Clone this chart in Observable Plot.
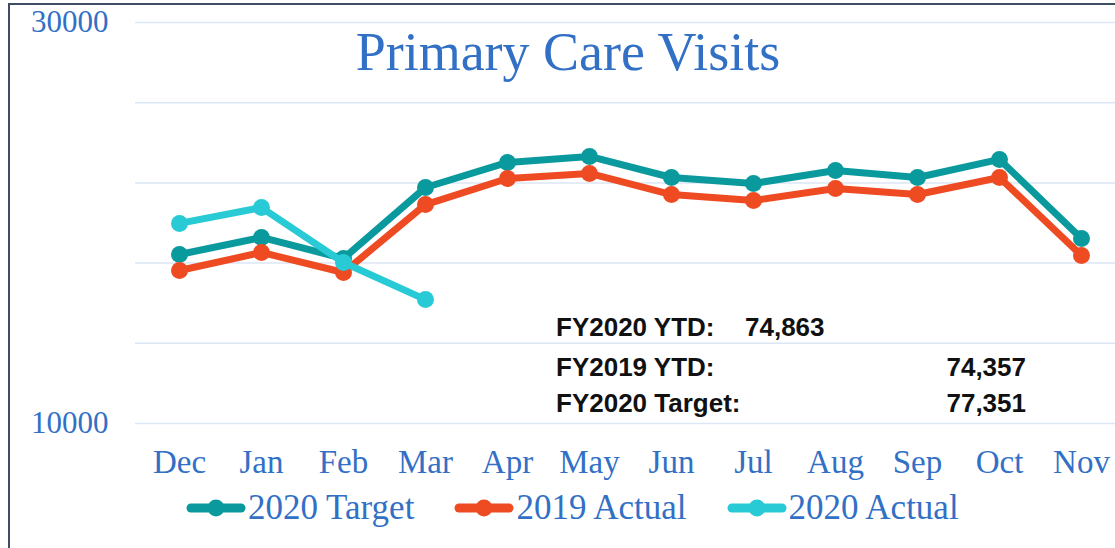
<!DOCTYPE html>
<html>
<head>
<meta charset="utf-8">
<script src="https://cdn.jsdelivr.net/npm/d3@7"></script>
<script src="https://cdn.jsdelivr.net/npm/@observablehq/plot@0.6"></script>
<style>
  html, body { margin: 0; padding: 0; background: #fff; }
  #wrap { position: relative; width: 1115px; height: 548px; overflow: hidden; background: #fff; }
  #frame { position: absolute; left: 8px; top: 3px; width: 1200px; height: 700px; border: 2px solid #3e4c64; box-sizing: border-box; }
  #chart { position: absolute; left: 0; top: 0; }
  #title { position: absolute; left: 0; width: 1136px; top: 25px; text-align: center; font-family: "Liberation Serif", serif; font-size: 54px; color: #3270c6; line-height: 1; }
  .summary { position: absolute; font-family: "Liberation Sans", sans-serif; font-weight: bold; font-size: 26px; color: #111; line-height: 1; white-space: nowrap; }
  #legend { position: absolute; left: 186px; top: 488px; display: flex; align-items: center; font-family: "Liberation Serif", serif; font-size: 35px; color: #3270c6; }
  .item { display: flex; align-items: center; margin-right: 40px; }
  .item svg { margin-right: 2px; }
</style>
</head>
<body>
<div id="wrap">
  <div id="frame"></div>
  <div id="chart"></div>
  <div id="title"></div>
  <div id="summary"></div>
  <div id="legend"></div>
</div>
<script>
const chartTitle = "Primary Care Visits";
const months = ["Dec","Jan","Feb","Mar","Apr","May","Jun","Jul","Aug","Sep","Oct","Nov"];
const target2020 = [18430, 19280, 18230, 21770, 23020, 23320, 22270, 21970, 22620, 22270, 23170, 19230];
const actual2019 = [17630, 18530, 17530, 20920, 22220, 22470, 21420, 21120, 21720, 21420, 22270, 18380];
const actual2020 = [19980, 20770, 18030, 16180];
const seriesNames = ["2020 Target", "2019 Actual", "2020 Actual"];
const seriesColors = ["#0a9a9e", "#ef4b23", "#28cbd5"];
const yTicks = [10000, 30000];
const yGrid = [10000, 14000, 18000, 22000, 26000, 30000];
const summaryLabels = ["FY2020 YTD:", "FY2019 YTD:", "FY2020 Target:"];
const summaryValues = ["74,863", "74,357", "77,351"];

const seriesValues = [target2020, actual2019, actual2020];
const data = [];
seriesNames.forEach((s, si) => {
  seriesValues[si].forEach((v, i) => data.push({series: s, month: months[i], value: v}));
});

const blue = "#3270c6";
const seriesMarks = [];
seriesNames.forEach(s => {
  const d = data.filter(r => r.series === s);
  seriesMarks.push(Plot.line(d, {x: "month", y: "value", stroke: "series", strokeWidth: 7, strokeLinejoin: "round"}));
  seriesMarks.push(Plot.dot(d, {x: "month", y: "value", fill: "series", r: 8.5}));
});

const chart = Plot.plot({
  width: 1115,
  height: 490,
  marginLeft: 135,
  marginRight: 0,
  marginTop: 22,
  marginBottom: 67,
  style: {background: "transparent", fontFamily: "Liberation Serif, serif", color: blue, overflow: "visible"},
  x: {type: "point", domain: months, range: [135, 1125], padding: 0.5},
  y: {domain: [10000, 30000]},
  color: {domain: seriesNames, range: seriesColors},
  marks: [
    Plot.ruleY(yGrid, {stroke: "#dbe6f6", strokeWidth: 1.5}),
    Plot.axisY(yTicks, {tickSize: 0, tickPadding: 27, fontSize: 31, fill: blue, tickFormat: d => String(d), label: null}),
    Plot.axisX({tickSize: 0, tickPadding: 26, fontSize: 33, fill: blue, label: null}),
    ...seriesMarks
  ]
});
document.getElementById("chart").appendChild(chart);
document.getElementById("title").textContent = chartTitle;

// summary block
const sum = document.getElementById("summary");
const rowTops = [314, 354, 390];
summaryLabels.forEach((lab, i) => {
  const l = document.createElement("div");
  l.className = "summary";
  l.style.left = "556px";
  l.style.top = rowTops[i] + "px";
  l.textContent = lab;
  sum.appendChild(l);
  const v = document.createElement("div");
  v.className = "summary";
  v.style.top = rowTops[i] + "px";
  if (i === 0) { v.style.left = "745px"; }
  else { v.style.right = (1115 - 1026) + "px"; }
  v.textContent = summaryValues[i];
  sum.appendChild(v);
});

// legend
const leg = document.getElementById("legend");
seriesNames.forEach((s, i) => {
  const it = document.createElement("div");
  it.className = "item";
  it.innerHTML = `<svg width="60" height="24"><line x1="5" y1="12" x2="55" y2="12" stroke="${seriesColors[i]}" stroke-width="9" stroke-linecap="round"/><circle cx="30" cy="12" r="8.5" fill="${seriesColors[i]}"/></svg><span>${s}</span>`;
  leg.appendChild(it);
});
</script>
</body>
</html>
